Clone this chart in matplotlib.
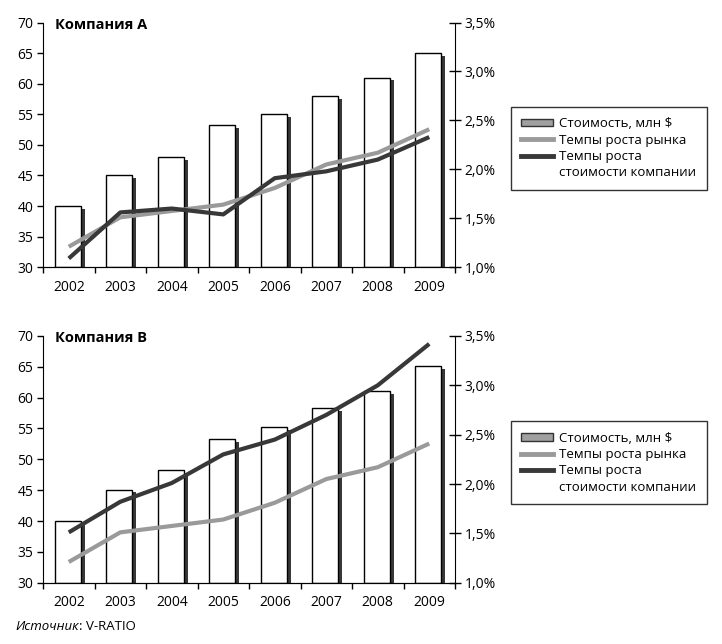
import numpy as np
import matplotlib
matplotlib.use("Agg")
import matplotlib.pyplot as plt
from matplotlib.lines import Line2D
from matplotlib.patches import Patch
from matplotlib.ticker import FuncFormatter

plt.rcParams['font.family'] = ['Open Sans', 'DejaVu Sans']

years = ['2002', '2003', '2004', '2005', '2006', '2007', '2008', '2009']

# стоимость, млн $
value_a = [40, 45, 48, 53.2, 55, 58, 61, 65]
value_b = [40, 45.1, 48.2, 53.3, 55.2, 58.3, 61, 65.1]

# темпы роста, %
market = [1.21, 1.51, 1.575, 1.64, 1.81, 2.05, 2.17, 2.41]
company_a = [1.09, 1.56, 1.60, 1.54, 1.91, 1.98, 2.10, 2.33]
company_b = [1.51, 1.82, 2.01, 2.30, 2.45, 2.70, 3.00, 3.42]

titles = ['Компания А', 'Компания В']
labels = ['Стоимость, млн $', 'Темпы роста рынка', 'Темпы роста', 'стоимости компании']

DARK = '#383838'
GRAY = '#9a9a9a'


def draw_panel(fig, rect, values, company, title):
    ax = fig.add_axes(rect)
    x = np.arange(len(years))
    heights = np.array(values) - 30

    # тень столбцов
    ax.bar(x + 0.065, heights - 0.45, width=0.5, bottom=30,
           color=DARK, linewidth=0, zorder=1)
    ax.bar(x - 0.02, heights, width=0.5, bottom=30,
           color='white', edgecolor='black', linewidth=1.0, zorder=2)

    ax.set_xlim(-0.5, len(years) - 0.5)
    ax.set_ylim(30, 70)
    ax.set_yticks(range(30, 71, 5))
    ax.set_xticks(np.arange(-0.5, len(years), 1.0))
    ax.set_xticklabels([])
    ax.set_xticks(x, minor=True)
    ax.set_xticklabels(years, minor=True)
    ax.tick_params(axis='x', which='major', direction='out', length=4, width=1)
    ax.tick_params(axis='x', which='minor', length=0, pad=9, labelsize=10)
    ax.tick_params(axis='y', direction='out', length=4, width=1, labelsize=10, pad=3)
    ax.spines['top'].set_visible(False)
    ax.spines['right'].set_visible(False)

    ax2 = ax.twinx()
    ax2.plot(x, market, color=GRAY, lw=3.0, solid_capstyle='butt', zorder=3)
    ax2.plot(x, company, color=DARK, lw=3.0, solid_capstyle='butt', zorder=4)
    ax2.set_ylim(1.0, 3.5)
    ax2.set_yticks(np.arange(1.0, 3.51, 0.5))
    ax2.yaxis.set_major_formatter(FuncFormatter(lambda v, p: f'{v:.1f}%'.replace('.', ',')))
    ax2.tick_params(axis='y', direction='inout', length=8, width=1, labelsize=10, pad=3)
    ax2.spines['top'].set_visible(False)
    ax2.spines['left'].set_visible(False)

    ax2.text(0.03, 1.02, title, transform=ax.transAxes, fontsize=10.5,
             fontweight='bold', va='top', ha='left', zorder=5)

    handles = [Patch(facecolor='#a0a0a0', edgecolor='#333333', linewidth=1),
               Line2D([], [], color=GRAY, lw=3.5),
               Line2D([], [], color=DARK, lw=3.5),
               Line2D([], [], color='none')]
    leg = ax2.legend(handles, labels, loc='center left',
                     bbox_to_anchor=(1.135, 0.486), frameon=True, fancybox=False,
                     edgecolor='black', fontsize=9.5, handlelength=2.4,
                     handleheight=0.5, labelspacing=0.25, borderpad=0.8,
                     handletextpad=0.5, borderaxespad=0)
    leg.get_frame().set_linewidth(1.0)
    return ax


fig = plt.figure(figsize=(7.22, 6.44), dpi=100)
draw_panel(fig, [0.0596, 0.585, 0.5706, 0.380], value_a, company_a, titles[0])
draw_panel(fig, [0.0596, 0.0952, 0.5706, 0.3831], value_b, company_b, titles[1])

t = fig.text(0.021, 0.022, 'Источник', fontsize=9.5, style='italic', va='baseline')
fig.canvas.draw()
ext = t.get_window_extent()
fig.text((ext.x1) / fig.bbox.width, 0.022, ': V-RATIO', fontsize=9.5, va='baseline')

fig.savefig('out.png', dpi=100)
